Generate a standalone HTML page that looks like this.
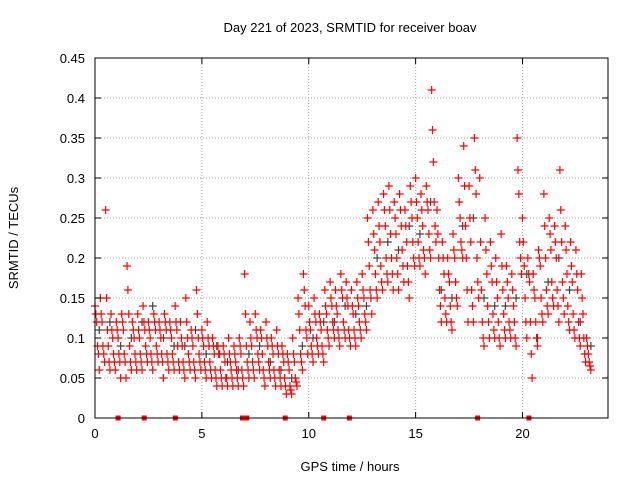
<!DOCTYPE html>
<html><head><meta charset="utf-8"><style>
body{margin:0;background:#fff}
svg{display:block;font-family:"Liberation Sans",sans-serif}
</style></head><body>
<svg id="chart" width="640" height="480">
<text x="350" y="32" text-anchor="middle" font-size="13">Day 221 of 2023, SRMTID for receiver boav</text>
<text x="350" y="471" text-anchor="middle" font-size="13">GPS time / hours</text>
<text x="18" y="238" text-anchor="middle" font-size="13" transform="rotate(-90 18 238)">SRMTID / TECUs</text>
<g id="grid"></g><g id="marks"></g><g id="axes"></g>
</svg>
<script>
const xTicks=[0,5,10,15,20];
const yTicks=[0,0.05,0.1,0.15,0.2,0.25,0.3,0.35,0.4,0.45];
const yLabels=["0","0.05","0.1","0.15","0.2","0.25","0.3","0.35","0.4","0.45"];
const tStep=0.25;
const redHi=[.14,.15,.26,.13,.12,.13,.19,.12,.13,.14,.12,.13,.12,.13,.12,.14,.12,.15,.11,.16,.11,.12,.10,.09,.09,.10,.09,.10,.18,.12,.13,.11,.12,.10,.11,.09,.08,.10,.15,.18,.14,.15,.13,.16,.17,.16,.18,.17,.16,.17,.18,.25,.26,.27,.28,.29,.27,.28,.26,.29,.30,.28,.29,.41,.26,.22,.20,.23,.30,.34,.29,.35,.30,.25,.22,.20,.23,.19,.18,.35,.25,.20,.18,.21,.28,.25,.24,.31,.24,.22,.21,.18,.10];
const redUp=[.13,.13,.15,.11,.11,.12,.16,.11,.11,.12,.11,.12,.11,.12,.11,.12,.10,.12,.10,.13,.10,.10,.09,.08,.08,.08,.08,.09,.13,.10,.11,.10,.10,.09,.09,.08,.07,.08,.13,.16,.12,.13,.12,.14,.15,.14,.16,.15,.14,.15,.16,.22,.23,.24,.26,.26,.25,.26,.24,.27,.27,.26,.27,.36,.23,.20,.18,.21,.27,.29,.25,.31,.22,.21,.19,.17,.19,.17,.16,.31,.22,.18,.16,.20,.24,.23,.22,.26,.21,.19,.18,.15,.09];
const redMid1=[.12,.12,.11,.10,.10,.11,.13,.10,.10,.11,.10,.11,.10,.11,.10,.11,.09,.10,.09,.10,.09,.09,.08,.08,.07,.07,.07,.08,.09,.09,.10,.08,.09,.08,.08,.07,.06,.07,.11,.14,.11,.12,.11,.13,.14,.13,.15,.14,.13,.14,.15,.19,.21,.22,.24,.23,.23,.24,.22,.25,.25,.24,.26,.32,.20,.18,.17,.20,.25,.24,.22,.28,.16,.18,.17,.15,.16,.15,.14,.28,.19,.17,.15,.19,.20,.21,.20,.22,.18,.17,.16,.13,.08];
const redMid2=[.09,.09,.09,.08,.08,.08,.09,.08,.08,.09,.08,.09,.08,.08,.08,.09,.07,.08,.07,.08,.07,.07,.06,.06,.05,.06,.06,.06,.07,.07,.08,.06,.07,.06,.06,.05,.04,.05,.08,.11,.09,.10,.09,.11,.12,.11,.12,.11,.11,.12,.13,.16,.18,.19,.20,.20,.20,.21,.19,.22,.22,.21,.23,.27,.16,.15,.14,.17,.22,.20,.16,.20,.12,.14,.13,.12,.13,.12,.12,.22,.15,.12,.12,.15,.16,.17,.16,.17,.14,.13,.12,.10,.07];
const redLow2=[.08,.08,.07,.07,.07,.07,.07,.07,.07,.08,.07,.08,.07,.07,.07,.07,.06,.07,.06,.07,.06,.06,.05,.05,.05,.05,.05,.05,.06,.06,.07,.05,.06,.05,.05,.04,.035,.045,.07,.10,.08,.09,.08,.10,.11,.10,.11,.10,.10,.11,.12,.15,.16,.17,.18,.18,.18,.19,.17,.20,.20,.20,.21,.24,.14,.13,.12,.15,.21,.16,.14,.17,.10,.12,.11,.10,.11,.11,.10,.20,.12,.08,.10,.13,.14,.15,.14,.15,.12,.11,.10,.08,.065];
const redLo=[.06,.07,.06,.06,.05,.05,.06,.06,.06,.07,.06,.07,.05,.06,.06,.06,.05,.06,.05,.06,.05,.05,.04,.04,.04,.04,.04,.04,.05,.05,.06,.04,.05,.04,.04,.03,.03,.04,.06,.08,.07,.08,.07,.09,.10,.09,.10,.09,.09,.10,.11,.13,.15,.16,.17,.16,.16,.17,.15,.19,.19,.18,.20,.22,.12,.12,.11,.14,.20,.12,.12,.15,.09,.10,.10,.09,.10,.10,.09,.18,.10,.05,.09,.12,.13,.14,.12,.13,.11,.10,.09,.07,.06];
const grayStep=0.5;
const grayVals=[.11,.12,.09,.10,.12,.14,.10,.09,.09,.11,.08,.09,.07,.06,.08,.09,.07,.06,.05,.09,.10,.12,.12,.14,.13,.14,.20,.22,.21,.24,.23,.27,.16,.15,.24,.25,.15,.14,.14,.15,.18,.10,.17,.20,.16,.12,.09];
const zeroTimes=[1.08,2.3,3.76,6.9,7.1,8.9,10.7,11.9,17.9,20.3];

const L=95,R=608,T=58,B=418;
const xs=h=>L+(h/24)*(R-L);
const ys=v=>B-(v/0.45)*(B-T);
const NS="http://www.w3.org/2000/svg";
function mk(tag,attrs,parent){const e=document.createElementNS(NS,tag);for(const k in attrs)e.setAttribute(k,attrs[k]);parent.appendChild(e);return e;}
const grid=document.getElementById('grid'),marks=document.getElementById('marks'),axes=document.getElementById('axes');
xTicks.forEach(t=>{const x=xs(t);
 if(t>0){const g=mk('line',{x1:x,x2:x,y1:T,y2:B,stroke:'#a0a0a0','stroke-dasharray':'1,2'},grid);}
 const tk=mk('path',{d:`M${x} ${B}v-6M${x} ${T}v6`,stroke:'#000'},axes);
 const lb=mk('text',{x:x,y:B+20,'text-anchor':'middle','font-size':13},axes);lb.textContent=t;});
yTicks.forEach((v,i)=>{const y=ys(v);
 if(i>0&&i<yTicks.length-1){const g=mk('line',{x1:L,x2:R,y1:y,y2:y,stroke:'#a0a0a0','stroke-dasharray':'1,2'},grid);}
 const tk=mk('path',{d:`M${L} ${y}h6M${R} ${y}h-6`,stroke:'#000'},axes);
 const lb=mk('text',{x:L-10,y:y+5,'text-anchor':'end','font-size':13},axes);lb.textContent=yLabels[i];});
const fr=mk('rect',{x:L,y:T,width:R-L,height:B-T,fill:'none',stroke:'#000'},axes);

function plus(h,v,col){const x=xs(h),y=ys(v);
 const p=mk('path',{d:`M${x-4} ${y}h8M${x} ${y-4}v8`,stroke:col,'stroke-width':1.2},marks);
 }
grayVals.forEach((v,i)=>plus(i*grayStep+0.2,v,'#404040'));
[redHi,redUp,redMid1,redMid2,redLow2,redLo].forEach((arr,k)=>arr.forEach((v,i)=>{plus(i*tStep+k*0.04,v,'#ff0000');}));
zeroTimes.forEach(h=>{const r=mk('rect',{x:xs(h)-2.5,y:B-2.5,width:5,height:5,fill:'#ff0000'},marks);
 });
</script>
</body></html>
